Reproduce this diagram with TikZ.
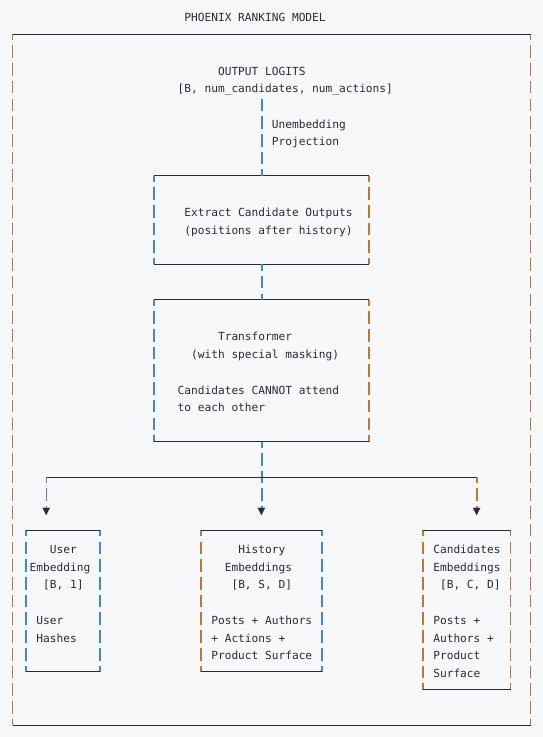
\documentclass[tikz,border=0pt]{standalone}
\usepackage{fontspec}
\setmonofont{DejaVu Sans Mono}
\usepackage{tikz}
\usetikzlibrary{fit}
\definecolor{paper}{HTML}{F6F8FA}
\definecolor{ink}{HTML}{2A2B36}
\definecolor{rust}{HTML}{C27634}
\definecolor{sky}{HTML}{3F8AD8}
\newcommand{\boxsides}[3]{%
  \draw[vline,#2] (#1.north west) -- (#1.south west);
  \draw[vline,#3] (#1.north east) -- (#1.south east);
  \draw[hline] (#1.north west) -- (#1.north east);
  \draw[hline] (#1.south west) -- (#1.south east);}

\begin{document}
\begin{tikzpicture}[x=6.727pt,y=-17.72pt,font=\ttfamily\fontsize{11.17}{13}\selectfont,
  hline/.style={ink,line width=0.9pt},
  vline/.style={line width=1.5pt,dash pattern=on 12.6pt off 5.12pt,dash phase=6.3pt},
  area/.style={inner sep=0pt,outer sep=0pt},
  txt/.style={anchor=mid west,inner sep=0pt,text=ink,yshift=-3.5pt},
  tip/.style={inner sep=0pt,text=ink,font=\ttfamily\fontsize{13}{13}\selectfont}]
  \fill[paper] (-12.7pt,16.28pt) rectangle (530.3pt,-720.72pt);
  % boxes on the character grid (column, row)
  \node[area,fit={(0,1) (77,40)}] (frame) {};
  \node[area,fit={(21,9) (53,14)}] (extract) {};
  \node[area,fit={(21,16) (53,24)}] (trans) {};
  \node[area,fit={(2,29) (13,37)}] (user) {};
  \node[area,fit={(28,29) (46,37)}] (hist) {};
  \node[area,fit={(61,29) (74,38)}] (cand) {};
  \boxsides{frame}{rust}{rust}
  \boxsides{extract}{sky}{rust}
  \boxsides{trans}{sky}{rust}
  \boxsides{user}{sky}{sky}
  \boxsides{hist}{rust}{sky}
  \boxsides{cand}{rust}{rust}
  % arrow tips
  \node[tip] (tipu) at (5,28) {▼};
  \node[tip] (tiph) at (37,28) {▼};
  \node[tip] (tipc) at (69,28) {▼};
  \coordinate (proj) at (37,4.5);
  \coordinate (fork) at (37,26);
  \draw[vline,sky,line width=1.9pt,dash phase=15.16pt] (proj) -- (extract.north);
  \draw[vline,sky,line width=1.9pt] (extract.south) -- (trans.north);
  \draw[vline,sky,line width=1.9pt] (trans.south) -- (tiph.north);
  \draw[hline] (tipu |- fork) -- (tipc |- fork);
  \draw[vline,sky] (tipu |- fork) -- (tipu.north);
  \draw[vline,rust] (tipc |- fork) -- (tipc.north);
  % text lines
  \foreach \c/\r/\t [count=\i] in {26/0/PHOENIX RANKING MODEL, 31/3/OUTPUT LOGITS,
      25/4/{[B, num\_candidates, num\_actions]}, 39/6/Unembedding, 39/7/Projection,
      26/11/Extract Candidate Outputs, 26/12/(positions after history),
      31/18/Transformer, 27/19/(with special masking),
      25/21/Candidates CANNOT attend, 25/22/to each other,
      6/30/User, 3/31/Embedding, 5/32/{[B, 1]}, 4/34/User, 4/35/Hashes,
      34/30/History, 32/31/Embeddings, 33/32/{[B, S, D]},
      30/34/Posts + Authors, 30/35/+ Actions +, 30/36/Product Surface,
      63/30/Candidates, 63/31/Embeddings, 64/32/{[B, C, D]},
      63/34/Posts +, 63/35/Authors +, 63/36/Product, 63/37/Surface}
    \node[txt] (line\i) at (\c-0.5,\r) {\t};
\end{tikzpicture}
\end{document}
